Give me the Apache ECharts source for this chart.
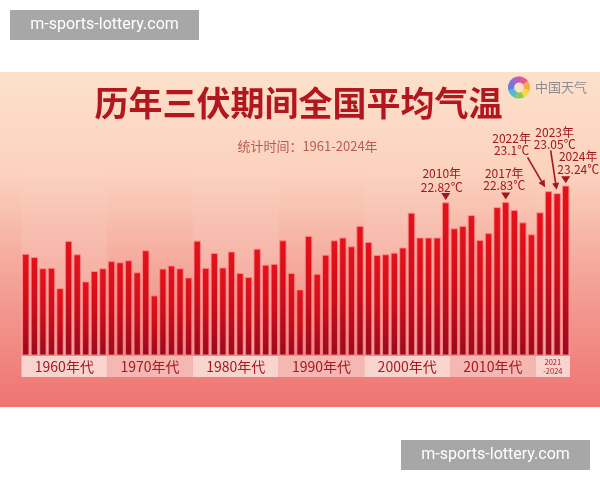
<!DOCTYPE html>
<html><head><meta charset="utf-8">
<script src="https://cdn.jsdelivr.net/npm/echarts@6/dist/echarts.min.js"></script>
<style>html,body{margin:0;padding:0;background:#fff}#c{width:600px;height:480px}</style>
</head><body><div id="c"></div>
<script>
// ---------- data ----------
const years = ['1961','1962','1963','1964','1965','1966','1967','1968','1969','1970',
  '1971','1972','1973','1974','1975','1976','1977','1978','1979','1980',
  '1981','1982','1983','1984','1985','1986','1987','1988','1989','1990',
  '1991','1992','1993','1994','1995','1996','1997','1998','1999','2000',
  '2001','2002','2003','2004','2005','2006','2007','2008','2009','2010',
  '2011','2012','2013','2014','2015','2016','2017','2018','2019','2020',
  '2021','2022','2023','2024'];
const temps = [21.53,21.45,21.17,21.18,20.67,21.85,21.52,20.84,21.10,21.17,
  21.35,21.32,21.37,21.07,21.62,20.49,21.16,21.24,21.17,20.94,
  21.86,21.18,21.55,21.19,21.59,21.05,20.95,21.66,21.26,21.28,
  21.87,21.05,20.64,21.98,21.03,21.51,21.87,21.94,21.72,22.23,
  21.83,21.50,21.52,21.56,21.69,22.56,21.94,21.94,21.94,22.82,
  22.17,22.23,22.50,21.88,22.05,22.70,22.83,22.63,22.32,22.02,
  22.57,23.10,23.05,23.24];
const decadeLabels = ['1960年代','1970年代','1980年代','1990年代','2000年代','2010年代','2021\n-2024'];
const decadeStart = ['1961','1971','1981','1991','2001','2011','2021'];
const decadeEnd   = ['1970','1980','1990','2000','2010','2020','2024'];
const annotYears = ['2010','2017','2022','2023','2024'];
const titleText = '历年三伏期间全国平均气温';
const subtitleText = '统计时间：1961-2024年';
const logoText = '中国天气';
const watermark = 'm-sports-lottery.com';

// ---------- layout / style ----------
const Y_MIN = 19, Y_MAX = 24;
const CJK = '"Noto Sans CJK SC", "Noto Sans", sans-serif';
const annotColor = '#a3161c';
// offsets of annotation parts relative to bar top centre (px)
const annotStyle = {
  '2010': {mode:'tri', tx:-4, ty1:-29, ty2:-15.5},
  '2017': {mode:'tri', tx:-1.5, ty1:-29, ty2:-16.5},
  '2022': {mode:'arrow', tx:-37, ty1:-53, ty2:-40.5, a0:[-21,-34], a1:[-3.5,-4]},
  '2023': {mode:'arrow', tx:-2.5, ty1:-61, ty2:-48.5, a0:[-6.5,-43], a1:[-0.5,-3.5]},
  '2024': {mode:'tri', tx:12.5, ty1:-29, ty2:-16.5}
};

const chart = echarts.init(document.getElementById('c'));

const decadeData = decadeLabels.map((l, i) => [years.indexOf(decadeStart[i]), years.indexOf(decadeEnd[i]), Y_MIN, l]);

const baseGraphics = [
  {id:'bg', type:'rect', z:-10, shape:{x:0, y:72, width:600, height:335},
    style:{fill:{type:'linear', x:0, y:0, x2:0, y2:1, colorStops:[
      {offset:0, color:'#fde1cb'}, {offset:0.3, color:'#fbd2be'},
      {offset:0.62, color:'#f4a397'}, {offset:1, color:'#ee7371'}]}}},
  {id:'title', type:'text', z:10, x:298.5, y:103,
    style:{text:titleText, font:'bold 34px ' + CJK, fill:'#b3161c', align:'center', verticalAlign:'middle'}},
  {id:'sub', type:'text', z:10, x:307.5, y:146,
    style:{text:subtitleText, font:'13px ' + CJK, fill:'#b65a55', align:'center', verticalAlign:'middle'}},
  {id:'logoTxt', type:'text', z:10, x:535, y:87,
    style:{text:logoText, font:'13px ' + CJK, fill:'#8c8c8c', align:'left', verticalAlign:'middle'}},
  {id:'wm1', type:'rect', z:100, shape:{x:10, y:10, width:189, height:30}, style:{fill:'#a7a7a7'}},
  {id:'wm1t', type:'text', z:101, x:104.5, y:25,
    style:{text:watermark, font:'16px Roboto, sans-serif', fill:'#ffffff', align:'center', verticalAlign:'middle'}},
  {id:'wm2', type:'rect', z:100, shape:{x:401, y:440, width:189, height:30}, style:{fill:'#a7a7a7'}},
  {id:'wm2t', type:'text', z:101, x:495.5, y:455,
    style:{text:watermark, font:'16px Roboto, sans-serif', fill:'#ffffff', align:'center', verticalAlign:'middle'}}
];
// logo ring
const logoColors = ['#e8458b','#f3a43b','#f7d83a','#7cc84a','#3fb6e0','#5a6fd8','#a255c9'];
logoColors.forEach((c, i) => {
  const a0 = -Math.PI / 2 + i * 2 * Math.PI / logoColors.length;
  baseGraphics.push({id:'logo' + i, type:'sector', z:10,
    shape:{cx:519, cy:87.5, r0:5, r:11, startAngle:a0, endAngle:a0 + 2 * Math.PI / logoColors.length + 0.05},
    style:{fill:c, opacity:0.9}});
});

const option = {
  animation: false,
  backgroundColor: '#ffffff',
  grid: {left: 21.5, right: 30, top: 155.4, bottom: 125},
  xAxis: {type:'category', data: years, axisLine:{show:false}, axisTick:{show:false}, axisLabel:{show:false}},
  yAxis: {type:'value', min: Y_MIN, max: Y_MAX, show:false, splitLine:{show:false}},
  series: [
    {
      type:'custom', z:1, clip:false, silent:true,
      encode:{x:[0,1], y:2},
      data: decadeData,
      renderItem(params, api) {
        const s = api.value(0), e = api.value(1);
        const bw = api.size([1, 0])[0];
        const p0 = api.coord([s, Y_MIN]);
        const p1 = api.coord([e, Y_MIN]);
        const top = api.coord([s, Y_MAX])[1];
        const x0 = p0[0] - bw / 2, x1 = p1[0] + bw / 2;
        const light = params.dataIndex % 2 === 0;
        const label = decadeLabels[params.dataIndex];
        const small = label.indexOf('\n') >= 0;
        const ch = [];
        if (light) ch.push({type:'rect', shape:{x:x0, y:top, width:x1 - x0, height:p0[1] - top},
          style:{fill:{type:'linear', x:0, y:0, x2:0, y2:1, colorStops:[
            {offset:0, color:'rgba(255,255,255,0)'}, {offset:1, color:'rgba(255,255,255,0.22)'}]}}});
        ch.push({type:'rect', shape:{x:x0, y:p0[1] + 1, width:x1 - x0, height:21},
          style:{fill: light ? '#f9d4cf' : '#f4b7b1'}});
        ch.push({type:'text', x:(x0 + x1) / 2, y:p0[1] + 12,
          style:{text:label, fill:'#a5191f', align:'center', verticalAlign:'middle',
            font: small ? '7.5px ' + CJK : '14px ' + CJK, lineHeight: small ? 9 : 16}});
        return {type:'group', children:ch};
      }
    },
    {
      type:'bar', z:2, data: temps, barCategoryGap:'17%',
      itemStyle:{
        color:{type:'linear', x:0, y:0, x2:0, y2:1, colorStops:[
          {offset:0, color:'#e5121a'}, {offset:0.5, color:'#cf0d1a'}, {offset:1, color:'#9a0a1f'}]},
        borderColor:'rgba(255,140,140,0.75)', borderWidth:0.7
      }
    }
  ],
  graphic: baseGraphics
};
chart.setOption(option);

// annotations positioned from the data through the chart's scales
const ann = [];
annotYears.forEach(y => {
  const i = years.indexOf(y), v = temps[i];
  const p = chart.convertToPixel({gridIndex:0}, [i, v]);
  const st = annotStyle[y];
  ann.push({id:'a1' + y, type:'text', z:20, x:p[0] + st.tx, y:p[1] + st.ty1,
    style:{text: y + '年', font:'12px ' + CJK, fill:annotColor, align:'center', verticalAlign:'middle'}});
  ann.push({id:'a2' + y, type:'text', z:20, x:p[0] + st.tx, y:p[1] + st.ty2,
    style:{text: v + '℃', font:'12px ' + CJK, fill:annotColor, align:'center', verticalAlign:'middle'}});
  if (st.mode === 'tri') {
    const cy = p[1] - 6;
    ann.push({id:'t' + y, type:'polygon', z:20,
      shape:{points:[[p[0] - 4.5, cy - 3.5], [p[0] + 4.5, cy - 3.5], [p[0], cy + 3.5]]},
      style:{fill:annotColor}});
  } else {
    const sx = p[0] + st.a0[0], sy = p[1] + st.a0[1];
    const ex = p[0] + st.a1[0], ey = p[1] + st.a1[1];
    const ang = Math.atan2(ey - sy, ex - sx);
    const L = 7, W = 3.5;
    const bx = ex - L * Math.cos(ang), by = ey - L * Math.sin(ang);
    ann.push({id:'l' + y, type:'line', z:20, shape:{x1:sx, y1:sy, x2:bx, y2:by},
      style:{stroke:annotColor, lineWidth:1.6}});
    ann.push({id:'h' + y, type:'polygon', z:20,
      shape:{points:[[ex, ey],
        [bx + W * Math.sin(ang), by - W * Math.cos(ang)],
        [bx - W * Math.sin(ang), by + W * Math.cos(ang)]]},
      style:{fill:annotColor}});
  }
});
chart.setOption({graphic: baseGraphics.concat(ann)});
</script>
</body></html>
